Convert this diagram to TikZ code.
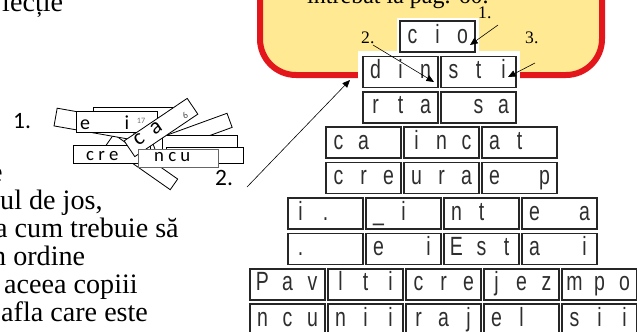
\documentclass[tikz,border=0pt]{standalone}
\usepackage{fontspec}
\usepackage{graphicx}
\usepackage{tikz}
\usetikzlibrary{arrows.meta}
\setmainfont{Liberation Serif}
\newfontfamily\narrowsans{Liberation Sans}
\newfontfamily\calib{Carlito}
\definecolor{panelRed}{HTML}{E3161B}
\definecolor{panelYellow}{HTML}{FFE993}
\definecolor{letterGray}{HTML}{2E2E2E}
\newlength\pxu
\setlength\pxu{0.03cm}
\newcommand\slotl[1]{\makebox[25\pxu]{\scalebox{0.74}[1]{#1}}}
\newcommand\trio[3]{\slotl{#1}\slotl{#2}\slotl{#3}}

\begin{document}
\begin{tikzpicture}[
    x=0.03cm, y=-0.03cm,
    body/.style={anchor=base west, inner sep=0, font=\fontsize{24}{28}\selectfont},
    panel/.style={draw=panelRed, line width=6\pxu, fill=panelYellow, rounded corners=36\pxu},
    brick/.style={rectangle, draw=black!85, line width=1.3pt, fill=white, minimum width=75\pxu, minimum height=31\pxu,
        inner sep=0, text height=17\pxu, text depth=4\pxu, text=letterGray, font=\narrowsans\fontsize{22.5}{24}\selectfont},
    strip/.style={rectangle, draw=black, line width=0.7pt, fill=white, inner sep=0},
    piece/.style={inner sep=0, font=\calib\fontsize{17}{18}\selectfont},
    tiny/.style={inner sep=0, text=black!55, font=\calib\fontsize{7}{8}\selectfont},
    num/.style={anchor=base west, inner sep=0, font=\fontsize{15}{16}\selectfont},
    bignum/.style={anchor=base west, inner sep=0, font=\calib\fontsize{20}{22}\selectfont},
    arrow/.style={-{Triangle[length=6.5pt,width=5.5pt]}, line width=0.5pt, black}
]
\useasboundingbox (0,0) rectangle (637,331);
\clip (0,0) rectangle (637,331);

% text on the left
\node[body] (lec) at (2,11) {lecție};
\node[body] (l1) at (-10,181) {e};
\node[body] (l2) at (0,209) {ul de jos,};
\node[body] (l3) at (-5,237) {a cum trebuie să};
\node[body] (l4) at (-8,265) {n ordine};
\node[body] (l5) at (4,293) {aceea copiii};
\node[body] (l6) at (1,321) {afla care este};

% scattered strips
\node[strip, minimum width=78\pxu, minimum height=13\pxu, rotate=-35] (s4) at (142,162) {};
\node[strip, minimum width=80\pxu, minimum height=18\pxu, rotate=-10] (s1) at (95,124) {};
\node[strip, minimum width=79\pxu, minimum height=18\pxu] (s2) at (132.5,116) {};
\node[strip, minimum width=80\pxu, minimum height=15\pxu, rotate=20] (s7) at (192,134) {};
\node[strip, minimum width=75\pxu, minimum height=18\pxu] (s5) at (199.5,144) {};
\node[strip, minimum width=77\pxu, minimum height=16\pxu] (s6) at (204.5,155) {};
\node[strip, minimum width=81\pxu, minimum height=21\pxu] (s3) at (116.5,121.5) {};
\node[piece] (s3e) at (85,125) {e};
\node[piece] (s3i) at (127,122.5) {i};
\node[tiny] (s3n) at (141,121) {17};
\node[strip, minimum width=77\pxu, minimum height=18\pxu] (s8) at (111.5,154) {};
\node[piece, anchor=base west, font=\calib\fontsize{16}{18}\selectfont] (s8t) at (86,160) {c r e};
\node[strip, minimum width=76\pxu, minimum height=19\pxu, rotate=34] (s10) at (161,127.5) {};
\node[piece, rotate=34, font=\calib\fontsize{19}{20}\selectfont] (s10c) at (139,139) {c};
\node[piece, rotate=34, font=\calib\fontsize{19}{20}\selectfont] (s10a) at (156,128) {a};
\node[tiny, rotate=34, text=black!70, font=\calib\fontsize{8}{9}\selectfont] (s10n) at (185,116) {6};
\node[strip, draw=black!60, minimum width=80\pxu, minimum height=18\pxu] (s9) at (178,158) {};
\node[piece, anchor=base west, font=\calib\fontsize{16}{18}\selectfont] (s9t) at (154,161) {n c u};
\node[bignum] (n1) at (13,128) {1.};
\node[bignum] (n2) at (215,185) {2.};

% yellow panel
\draw[panel] (260,-90) rectangle (602,75);
\node[body, font=\fontsize{20.5}{24}\selectfont] (ptitle) at (307,3) {întrebat la pag. 60.};
\fill[white] (358,51) rectangle (520,90);
\fill[white] (397,18) rectangle (479,55);

% pyramid of bricks
\foreach \r/\x/\boxes in {
    1/400/{{c}{i}{o}},
    2/363/{{d}{i}{n},{s}{t}{i}},
    3/363/{{r}{t}{a},{}{s}{a}},
    4/326/{{c}{a}{},{i}{n}{c},{a}{t}{}},
    5/326/{{c}{r}{e},{u}{r}{a},{e}{}{p}},
    6/288/{{i}{.}{},{\_}{i}{},{n}{t}{},{e}{}{a}},
    7/288/{{.}{}{},{e}{}{i},{E}{s}{t},{a}{}{i}},
    8/250/{{P}{a}{v},{l}{t}{i},{c}{r}{e},{j}{e}{z},{m}{p}{o}},
    9/250/{{n}{c}{u},{n}{i}{i},{r}{a}{j},{e}{l}{},{s}{i}{i}}} {
  \pgfmathsetmacro\yc{21+35.4*(\r-1)+15.5}
  \foreach \b [count=\i] in \boxes {
    \node[brick] (b\r-\i) at ({\x+78*(\i-1)+37.5},\yc) {\expandafter\trio\b};
  }
}

% arrows and their numbers
\node[num] (m1) at (478,18) {1.};
\node[num] (m2) at (361,43) {2.};
\node[num] (m3) at (525,43) {3.};
\coordinate (m1s) at (498,25);
\coordinate (m1e) at (470,45);
\coordinate (m2s) at (373,45);
\coordinate (m2e) at (434,82);
\coordinate (m3s) at (535,63);
\coordinate (m3e) at (508,77);
\coordinate (bigs) at (247,187);
\coordinate (bige) at (350,80);
\draw[arrow] (m1s) -- (m1e);
\draw[arrow] (m2s) -- (m2e);
\draw[arrow] (m3s) -- (m3e);
\draw[arrow] (bigs) -- (bige);

\end{tikzpicture}
\end{document}
